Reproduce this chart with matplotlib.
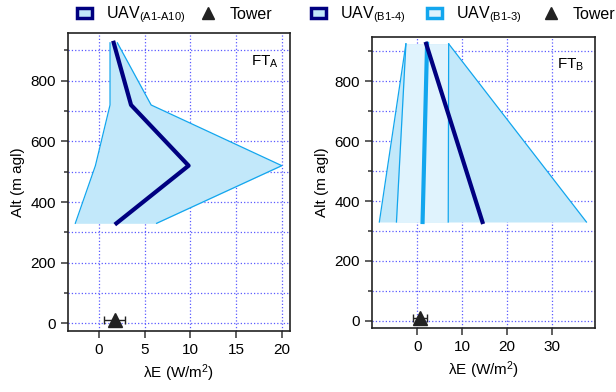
import numpy as np
import matplotlib.pyplot as plt
from matplotlib.lines import Line2D
from matplotlib.patches import Patch
from matplotlib.ticker import MultipleLocator, FixedLocator

plt.rcParams['font.family'] = ['Liberation Sans', 'DejaVu Sans']
plt.rcParams['mathtext.default'] = 'regular'
plt.rcParams['font.size'] = 11

# altitude levels (m agl)
alt = [925, 720, 520, 330]

# FT_A: UAV A1-A10
a_mean = [1.6, 3.5, 9.8, 1.9]
a_low = [1.2, 1.2, -0.4, -2.6]
a_high = [2.0, 5.7, 20.0, 6.3]

# FT_B: UAV B1-4 and B1-3
alt_b = [925, 330]
b14_mean = [2.0, 14.5]
b14_low = [-2.5, -8.4]
b14_high = [7.0, 37.6]
b13_mean = [2.2, 1.2]
b13_low = [-2.5, -4.6]
b13_high = [7.0, 6.9]

# tower (x, alt, x error)
tower_a = (1.7, 10, 1.15)
tower_b = (0.6, 10, 1.6)

navy = '#000080'
sky = '#12a6ee'
fill1 = '#c2e8fa'
fill2 = '#e0f3fd'
gridc = '#5a5aff'

fig = plt.figure(figsize=(6.16, 3.92), dpi=100)
ax = fig.add_axes([0.1104, 0.1556, 0.3604, 0.760])
ay = fig.add_axes([0.6034, 0.1625, 0.3625, 0.744])


def style(a):
    a.yaxis.set_major_locator(MultipleLocator(200))
    a.yaxis.set_minor_locator(MultipleLocator(100))
    a.grid(True, which='major', color=gridc, linestyle=':', linewidth=0.9)
    a.grid(True, which='minor', axis='y', color=gridc, linestyle=':', linewidth=0.9)
    a.tick_params(which='major', length=5, width=1.2, color='#444444')
    a.tick_params(which='minor', length=3, width=1.2, color='#444444')
    for s in a.spines.values():
        s.set_linewidth(1.2)
        s.set_color('#222222')
    a.set_axisbelow(True)
    a.set_ylabel("Alt (m agl)")
    a.set_xlabel(r"$\lambda$E (W/m$^2$)")


leg_kw = dict(frameon=False, fontsize=11.5, handlelength=0.95, handleheight=0.55,
              handletextpad=0.9, borderaxespad=0.1, borderpad=0.2)

# left panel
ax.fill_betweenx(alt, a_low, a_high, color=fill1, linewidth=0)
ax.plot(a_low, alt, color=sky, lw=0.9)
ax.plot(a_high, alt, color=sky, lw=0.9)
ax.plot(a_mean, alt, color=navy, lw=3)
ax.errorbar(tower_a[0], tower_a[1], xerr=tower_a[2], fmt='^', color='#222222',
            ms=10, capsize=3, elinewidth=1)
ax.set_xlim(-3.4, 20.9)
ax.set_ylim(-25, 957)
ax.xaxis.set_major_locator(MultipleLocator(5))
style(ax)
ax.text(0.95, 0.93, "FT$_A$", transform=ax.transAxes, ha='right', va='top', fontsize=11)

h1 = Patch(facecolor=fill1, edgecolor=navy, linewidth=2.5)
h2 = Line2D([], [], marker='^', ls='none', ms=9, color='#222222')
fig.legend([h1, h2], [r"UAV$_{(A1\text{-}A10)}$", "Tower"], loc='upper left',
           bbox_to_anchor=(72 / 616, 1.0), ncol=2, columnspacing=0.9, **leg_kw)

# right panel
ay.fill_betweenx(alt_b, b14_low, b14_high, color=fill1, linewidth=0)
ay.fill_betweenx(alt_b, b13_low, b13_high, color=fill2, linewidth=0)
for xs in (b14_low, b14_high, b13_low, b13_high):
    ay.plot(xs, alt_b, color=sky, lw=0.9)
ay.plot(b13_mean, alt_b, color=sky, lw=3)
ay.plot(b14_mean, alt_b, color=navy, lw=3)
ay.errorbar(tower_b[0], tower_b[1], xerr=tower_b[2], fmt='^', color='#222222',
            ms=10, capsize=3, elinewidth=1)
ay.set_xlim(-10.1, 39.5)
ay.set_ylim(-25, 949)
ay.xaxis.set_major_locator(FixedLocator([0, 10, 20, 30]))
style(ay)
ay.text(0.95, 0.93, "FT$_B$", transform=ay.transAxes, ha='right', va='top', fontsize=11)

g1 = Patch(facecolor=fill1, edgecolor=navy, linewidth=2.5)
g2 = Patch(facecolor=fill2, edgecolor=sky, linewidth=2.5)
g3 = Line2D([], [], marker='^', ls='none', ms=9, color='#222222')
fig.legend([g1, g2, g3], [r"UAV$_{(B1\text{-}4)}$", r"UAV$_{(B1\text{-}3)}$", "Tower"],
           loc='upper left', bbox_to_anchor=(306 / 616, 1.0), ncol=3, columnspacing=1.3,
           **leg_kw)

fig.savefig("out.png", dpi=100)
